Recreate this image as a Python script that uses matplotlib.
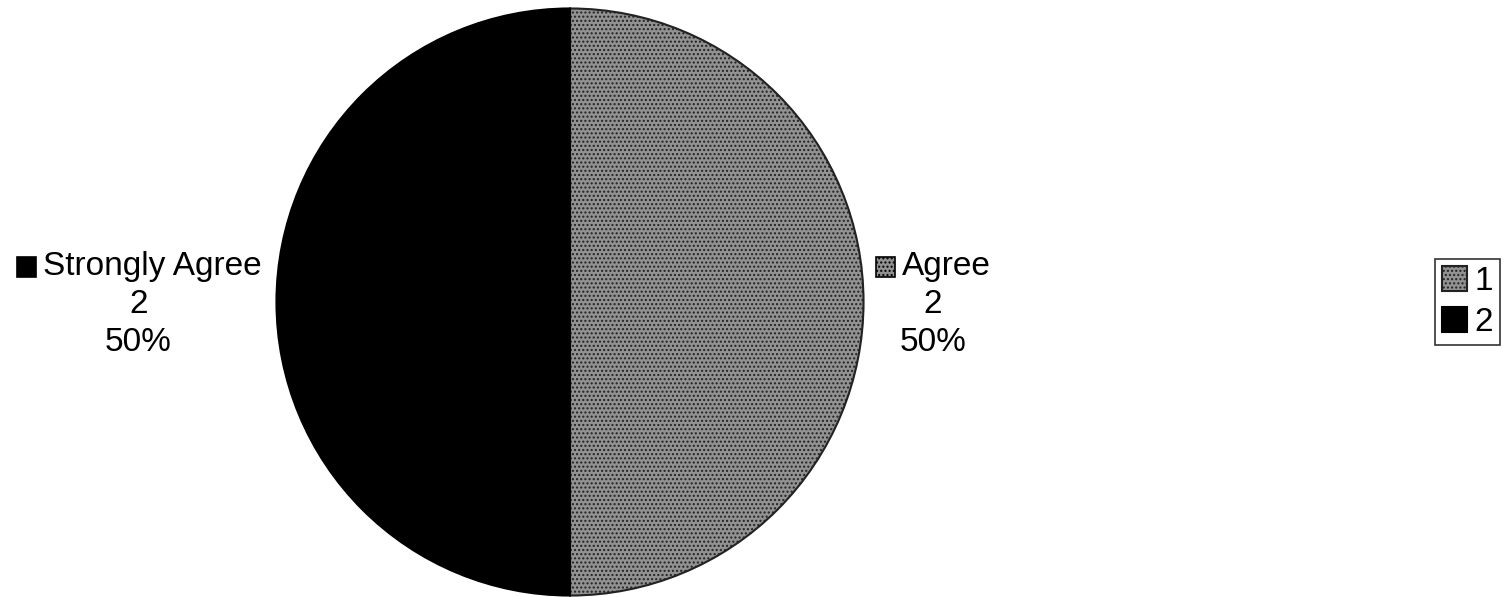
import matplotlib.pyplot as plt
from matplotlib.patches import Rectangle
from matplotlib.offsetbox import (AnnotationBbox, DrawingArea, HPacker,
                                  TextArea, VPacker)

# survey answers
categories = ['Agree', 'Strongly Agree']
counts = [2, 2]
legend_labels = ['1', '2']
colors = ['#929292', '#000000']
hatches = ['....', None]

plt.rcParams['font.family'] = ['Liberation Sans', 'DejaVu Sans']
font_size = 24

fig = plt.figure(figsize=(15.07, 5.97), dpi=100)
ax = fig.add_axes([274 / 1507, 0, 592 / 1507, 590 / 597])

wedges, _ = ax.pie(counts, colors=colors, startangle=90, counterclock=False,
                   wedgeprops=dict(edgecolor='black', linewidth=1.5))
for w, h in zip(wedges, hatches):
    if h:
        w.set_hatch(h)
        w.set_edgecolor('#222222')
ax.set_xlim(-1.005, 1.005)
ax.set_ylim(-1.005, 1.005)
ax.set_aspect('equal')

total = sum(counts)


def swatch(color, hatch):
    # sizes in points
    da = DrawingArea(16, 16, 0, 0)
    r = Rectangle((1, 1), 14, 14, facecolor=color, edgecolor='black',
                  linewidth=1.2, hatch=hatch)
    da.add_artist(r)
    return da


# data labels with category, count and percentage
for i, (cat, n) in enumerate(zip(categories, counts)):
    pct = '%d%%' % round(100 * n / total)
    props = dict(fontsize=font_size, color='black')
    head = HPacker(children=[swatch(colors[i], hatches[i]),
                             TextArea(cat, textprops=props)],
                   pad=0, sep=4, align='center')
    block = VPacker(children=[head, TextArea(str(n), textprops=props),
                              TextArea(pct, textprops=props)],
                    pad=0, sep=5, align='center')
    if i == 0:
        xy, align = (1.037, -0.01), (0, 0.5)
    else:
        xy, align = (-1.05, -0.01), (1, 0.5)
    ab = AnnotationBbox(block, xy, xycoords='data', box_alignment=align,
                        frameon=False, annotation_clip=False)
    ax.add_artist(ab)

leg = fig.legend(wedges, legend_labels, loc='center right',
                 bbox_to_anchor=(1500 / 1507, 1 - 302 / 597),
                 fontsize=font_size, frameon=True, fancybox=False,
                 handlelength=0.75, handleheight=0.75, handletextpad=0.25,
                 borderpad=0.2, labelspacing=0.3, borderaxespad=0)
leg.get_frame().set_edgecolor('black')
leg.get_frame().set_linewidth(1.2)

fig.savefig('out.png', dpi=100)
